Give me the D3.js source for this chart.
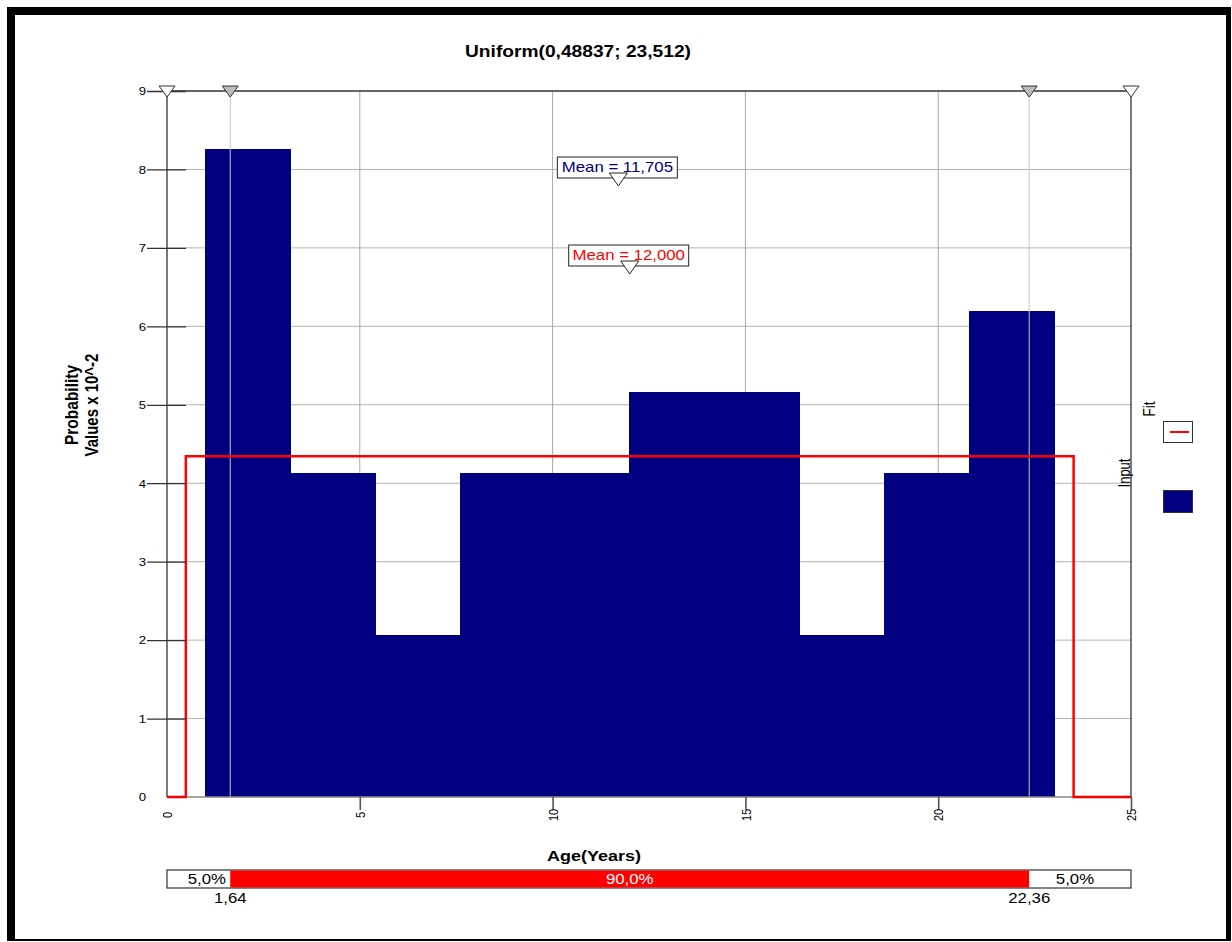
<!DOCTYPE html>
<html>
<head>
<meta charset="utf-8">
<script src="https://cdn.jsdelivr.net/npm/d3@7/dist/d3.min.js"></script>
<style>
  html, body { margin: 0; padding: 0; background: #fff; }
  svg { display: block; font-family: "Liberation Sans", Arial, sans-serif; }
</style>
</head>
<body>
<svg id="chart" width="1232" height="942"></svg>
<script>
// Histogram of the input data (bin edges in years, density in units of 10^-2)
const binEdges = [0.985, 3.187, 5.389, 7.590, 9.792, 11.994, 14.196, 16.398, 18.599, 20.801, 23.003];
const inputDensity = [8.26, 4.13, 2.07, 4.13, 4.13, 5.16, 5.16, 2.07, 4.13, 6.19];

// Fitted Uniform(0,48837; 23,512) density outline
const fitX = [0, 0.48837, 0.48837, 23.512, 23.512, 25];
const fitY = [0, 0, 4.343, 4.343, 0, 0];

// Axis ticks
const xTicks = [0, 5, 10, 15, 20, 25];
const yTicks = [0, 1, 2, 3, 4, 5, 6, 7, 8, 9];

// 5% / 95% percentiles and axis-end markers
const percentiles = [1.64, 22.36];
const percentileLabels = ["1,64", "22,36"];
const tailShares = ["5,0%", "90,0%", "5,0%"];
const endMarkers = [0, 25];

// Means
const inputMean = 11.705;
const fitMean = 12.000;

const titleText = "Uniform(0,48837; 23,512)";

const NAVY = "#000080";
const RED = "#ff0000";
const SX = 1.2; // horizontal glyph stretch of the export

const locale = d3.formatLocale({decimal: ",", thousands: ".", grouping: [3], currency: ["", ""]});
const fmt3 = locale.format(".3f");

const svg = d3.select("#chart");

// outer frame
svg.append("rect").attr("x", 7).attr("y", 7).attr("width", 1224).attr("height", 934).attr("fill", "#000");
svg.append("rect").attr("x", 15).attr("y", 15).attr("width", 1211).attr("height", 924).attr("fill", "#fff");

const L = 167, R = 1131, T = 91, B = 797;
const x = d3.scaleLinear().domain([0, 25]).range([L, R]);
const y = d3.scaleLinear().domain([0, 9]).range([B, T]);

// horizontal text helper with glyph stretch
function hText(g, tx, ty, str, opts) {
  return g.append("text")
    .attr("transform", `translate(${tx},${ty}) scale(${SX},1)`)
    .attr("text-anchor", opts.anchor || "middle")
    .attr("font-size", opts.size)
    .attr("font-weight", opts.weight || "normal")
    .attr("fill", opts.fill || "#000")
    .text(str);
}
function vText(g, tx, ty, str, opts) {
  return g.append("text")
    .attr("transform", `translate(${tx},${ty}) rotate(-90) scale(1,${SX})`)
    .attr("text-anchor", "middle")
    .attr("dy", "0.35em")
    .attr("font-size", opts.size)
    .attr("font-weight", opts.weight || "normal")
    .attr("fill", opts.fill || "#000")
    .text(str);
}

// title
hText(svg, 578, 57, titleText, {size: 16, weight: "bold"});

// grid
const grid = svg.append("g");
grid.selectAll("line.h").data(yTicks.filter(d => d > 0 && d < 9)).join("line")
  .attr("x1", L).attr("x2", R).attr("y1", d => y(d)).attr("y2", d => y(d))
  .attr("stroke", "#b4b4b4").attr("stroke-width", 1);
grid.selectAll("line.v").data(xTicks.filter(d => d > 0 && d < 25)).join("line")
  .attr("x1", d => x(d)).attr("x2", d => x(d)).attr("y1", T).attr("y2", B)
  .attr("stroke", "#a8a8a8").attr("stroke-width", 1);

// histogram bars
svg.append("g").attr("shape-rendering", "crispEdges")
  .selectAll("rect").data(inputDensity).join("rect")
  .attr("x", (d, i) => x(binEdges[i]))
  .attr("width", (d, i) => x(binEdges[i + 1]) - x(binEdges[i]) + 1)
  .attr("y", d => y(d))
  .attr("height", d => y(0) - y(d))
  .attr("fill", NAVY);

// percentile lines
svg.append("g").selectAll("line").data(percentiles).join("line")
  .attr("x1", d => x(d)).attr("x2", d => x(d)).attr("y1", T).attr("y2", B)
  .attr("stroke", "#c8c8c8").attr("stroke-width", 1);

// bottom baseline
svg.append("line").attr("x1", L).attr("x2", R).attr("y1", B).attr("y2", B)
  .attr("stroke", "#888").attr("stroke-width", 1.5);

// fitted density
const fitLine = d3.line().x(d => x(d[0])).y(d => y(d[1]));
svg.append("path").datum(fitX.map((v, i) => [v, fitY[i]]))
  .attr("d", fitLine).attr("fill", "none").attr("stroke", RED).attr("stroke-width", 2.5);

// plot frame (left, top, right)
svg.append("path").attr("d", `M${L},${B}V${T}H${R}V${B}`)
  .attr("fill", "none").attr("stroke", "#333").attr("stroke-width", 1.3);

// y axis
const yAxis = svg.append("g").attr("transform", `translate(${L},0)`)
  .call(d3.axisLeft(y).tickValues(yTicks).tickSize(20).tickPadding(1).tickFormat(d3.format("d")));
yAxis.select(".domain").remove();
yAxis.selectAll(".tick line").attr("x1", 19).attr("stroke", "#333").attr("stroke-width", 1.3)
  .attr("display", d => d === 0 ? "none" : null);
yAxis.selectAll(".tick text")
  .attr("x", null).attr("dy", "0.35em")
  .attr("transform", `translate(-21,0) scale(${SX},1)`)
  .attr("font-size", 11).attr("font-family", "Liberation Sans, Arial, sans-serif").attr("fill", "#000");

// x axis
const xAxis = svg.append("g").attr("transform", `translate(0,${B})`)
  .call(d3.axisBottom(x).tickValues(xTicks).tickSize(13).tickFormat(d3.format("d")));
xAxis.select(".domain").remove();
xAxis.selectAll(".tick line").attr("stroke", "#555").attr("stroke-width", 1.6)
  .attr("display", d => d === 0 ? "none" : null);
xAxis.selectAll(".tick text")
  .attr("y", null).attr("dy", "0.35em").attr("text-anchor", "middle")
  .attr("transform", `translate(0,18) rotate(-90) scale(1,${SX})`)
  .attr("font-size", 11).attr("font-family", "Liberation Sans, Arial, sans-serif").attr("fill", "#000");

// axis titles
vText(svg, 71, 405, "Probability", {size: 15.5, weight: "bold"});
vText(svg, 92, 405, "Values x 10^-2", {size: 15, weight: "bold"});
hText(svg, 594, 861, "Age(Years)", {size: 15, weight: "bold"});

// top markers
function downTri(cx, tipY, w, h) {
  return `M${cx - w / 2},${tipY - h}L${cx + w / 2},${tipY - h}L${cx},${tipY}Z`;
}
svg.append("g").selectAll("path").data(endMarkers).join("path")
  .attr("d", d => downTri(x(d), 97, 16, 11))
  .attr("fill", "#fff").attr("stroke", "#333").attr("stroke-width", 1);
svg.append("g").selectAll("path").data(percentiles).join("path")
  .attr("d", d => downTri(x(d), 97, 16, 11))
  .attr("fill", "#bdbdbd").attr("stroke", "#333").attr("stroke-width", 1);

// mean callouts
function meanCallout(value, boxTop, color) {
  const g = svg.append("g");
  const cx = x(value);
  g.append("rect").attr("x", cx - 61).attr("y", boxTop).attr("width", 120).attr("height", 21)
    .attr("fill", "#fff").attr("stroke", "#222").attr("stroke-width", 1);
  hText(g, cx - 1, boxTop + 15, "Mean = " + fmt3(value), {size: 14, fill: color});
  g.append("path").attr("d", downTri(cx, boxTop + 29, 18, 13))
    .attr("fill", "#fff").attr("stroke", "#222").attr("stroke-width", 1);
}
meanCallout(inputMean, 157, NAVY);
meanCallout(fitMean, 245, RED);

// legend
vText(svg, 1149, 409, "Fit", {size: 13.5});
svg.append("rect").attr("x", 1163.5).attr("y", 421.5).attr("width", 29).attr("height", 21)
  .attr("fill", "#fff").attr("stroke", "#333").attr("stroke-width", 1);
svg.append("line").attr("x1", 1170).attr("x2", 1189).attr("y1", 432).attr("y2", 432)
  .attr("stroke", RED).attr("stroke-width", 2);
vText(svg, 1125, 473, "Input", {size: 13});
svg.append("rect").attr("x", 1163.5).attr("y", 490.5).attr("width", 29).attr("height", 22)
  .attr("fill", NAVY).attr("stroke", "#333").attr("stroke-width", 1);

// percentile band
const band = svg.append("g");
band.append("rect").attr("x", L).attr("y", 870).attr("width", R - L).attr("height", 18)
  .attr("fill", "#fff").attr("stroke", "#333").attr("stroke-width", 1.2);
band.append("rect").attr("x", x(percentiles[0])).attr("y", 870.5)
  .attr("width", x(percentiles[1]) - x(percentiles[0])).attr("height", 17).attr("fill", RED);
hText(band, 226, 884, tailShares[0], {size: 14, anchor: "end"});
hText(band, (x(percentiles[0]) + x(percentiles[1])) / 2, 884, tailShares[1], {size: 14, fill: "#fff"});
hText(band, 1075, 884, tailShares[2], {size: 14});
percentiles.forEach((p, i) => hText(band, x(p), 903, percentileLabels[i], {size: 14}));
</script>
</body>
</html>
